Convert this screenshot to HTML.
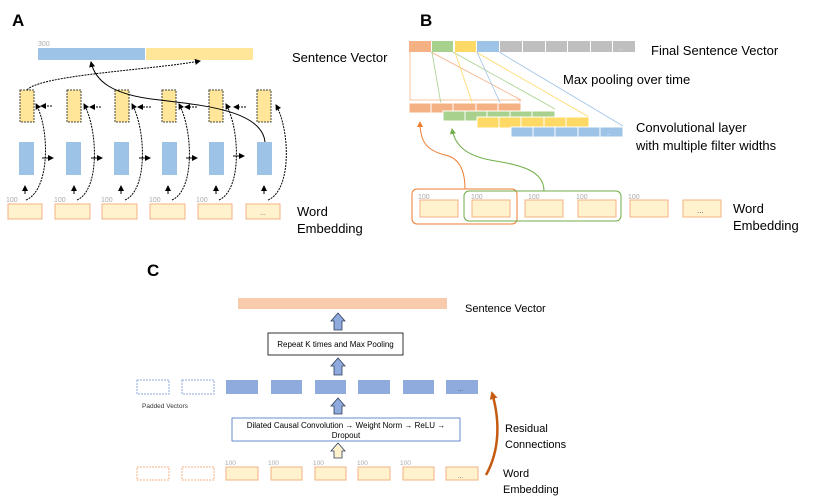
<!DOCTYPE html>
<html><head><meta charset="utf-8"><style>
html,body{margin:0;padding:0;background:#fff;}
svg{display:block;font-family:"Liberation Sans",sans-serif;}
</style></head><body>
<svg width="830" height="502" viewBox="0 0 830 502" xmlns="http://www.w3.org/2000/svg">
<defs>
<marker id="ak" markerWidth="6" markerHeight="6" refX="5" refY="3" orient="auto" markerUnits="userSpaceOnUse"><path d="M0,0 L6,3 L0,6 z" fill="#000"/></marker>
<marker id="ao" markerWidth="6" markerHeight="6" refX="5" refY="3" orient="auto" markerUnits="userSpaceOnUse"><path d="M0,0 L6,3 L0,6 z" fill="#ed7d31"/></marker>
<marker id="ag" markerWidth="6" markerHeight="6" refX="5" refY="3" orient="auto" markerUnits="userSpaceOnUse"><path d="M0,0 L6,3 L0,6 z" fill="#70ad47"/></marker>
<marker id="ar" markerWidth="8" markerHeight="8" refX="6" refY="4" orient="auto" markerUnits="userSpaceOnUse"><path d="M0,0 L8,4 L0,8 z" fill="#c55a11"/></marker>
</defs>

<!-- Panel A -->
<text x="12" y="26" font-size="17" font-weight="bold">A</text>
<text x="38" y="46" font-size="7" fill="#aaa">300</text>
<rect x="38" y="48" width="107" height="12" fill="#9dc3e6"/>
<rect x="146" y="48" width="107" height="12" fill="#ffe699"/>
<text x="292" y="62" font-size="13">Sentence Vector</text>
<g id="colA">
</g>
<g stroke="#000" stroke-width="1">
<!-- yellow boxes -->
<g fill="#ffe699" stroke="#444" stroke-dasharray="2,1">
<rect x="20" y="90" width="14" height="32"/><rect x="67" y="90" width="14" height="32"/><rect x="115" y="90" width="14" height="32"/><rect x="162" y="90" width="14" height="32"/><rect x="209" y="90" width="14" height="32"/><rect x="257" y="90" width="14" height="32"/>
</g>
<g fill="#9dc3e6" stroke="none">
<rect x="19" y="142" width="15" height="33"/><rect x="66" y="142" width="15" height="33"/><rect x="114" y="142" width="15" height="33"/><rect x="162" y="142" width="15" height="33"/><rect x="209" y="142" width="15" height="33"/><rect x="257" y="142" width="15" height="33"/>
</g>
<g fill="#fff2cc" stroke="#f4b183">
<rect x="8" y="204" width="34" height="15"/><rect x="55" y="204" width="35" height="15"/><rect x="102" y="204" width="35" height="15"/><rect x="150" y="204" width="35" height="15"/><rect x="198" y="204" width="34" height="15"/><rect x="246" y="204" width="34" height="15"/>
</g>
<!-- small up arrows -->
<g marker-end="url(#ak)">
<line x1="25" y1="194" x2="25" y2="186"/><line x1="74" y1="194" x2="74" y2="186"/><line x1="121" y1="194" x2="121" y2="186"/><line x1="168" y1="194" x2="168" y2="186"/><line x1="216" y1="194" x2="216" y2="186"/><line x1="264" y1="194" x2="264" y2="186"/>
<line x1="42" y1="158" x2="53" y2="158"/><line x1="91" y1="158" x2="102" y2="158"/><line x1="139" y1="158" x2="150" y2="158"/><line x1="186" y1="158" x2="197" y2="158"/><line x1="233" y1="156" x2="244" y2="156"/>
</g>
<g marker-end="url(#ak)" stroke-dasharray="2,1">
<line x1="52" y1="106" x2="41" y2="106"/><line x1="101" y1="107" x2="90" y2="107"/><line x1="151" y1="107" x2="138" y2="107"/><line x1="197" y1="107" x2="185" y2="107"/><line x1="246" y1="107" x2="234" y2="107"/>
</g>
<g fill="none" stroke-dasharray="2,1" marker-end="url(#ak)">
<path d="M26,200 C50,190 50,130 36,104"/>
<path d="M77,200 C100,190 98,130 84,104"/>
<path d="M125,200 C148,190 146,130 132,104"/>
<path d="M172,200 C195,190 193,130 179,104"/>
<path d="M219,200 C242,190 240,130 226,104"/>
<path d="M268,200 C292,190 290,130 276,105"/>
<path d="M27,90 C40,75 150,70 200,61"/>
</g>
<path d="M265,142 C262,110 200,105 160,100 C110,95 95,80 91,62" fill="none" marker-end="url(#ak)"/>
</g>
<g font-size="7" fill="#aaa"><text x="6" y="202">100</text><text x="54" y="202">100</text><text x="101" y="202">100</text><text x="149" y="202">100</text><text x="196" y="202">100</text></g>
<text x="260" y="215" font-size="7" fill="#666">...</text>
<text x="297" y="216" font-size="13">Word</text>
<text x="297" y="233" font-size="13">Embedding</text>

<!-- Panel B -->
<text x="420" y="26" font-size="17" font-weight="bold">B</text>
<rect x="409" y="41" width="22" height="11" fill="#f4b183"/>
<rect x="432" y="41" width="21" height="11" fill="#a9d18e"/>
<rect x="455" y="41" width="21" height="11" fill="#ffd966"/>
<rect x="477" y="41" width="22" height="11" fill="#9dc3e6"/>
<g fill="#bfbfbf"><rect x="500" y="41" width="22" height="11"/><rect x="523" y="41" width="22" height="11"/><rect x="546" y="41" width="21" height="11"/><rect x="568" y="41" width="22" height="11"/><rect x="591" y="41" width="21" height="11"/><rect x="613" y="41" width="22" height="11"/></g>
<text x="619" y="50" font-size="6" fill="#fff">..</text>
<text x="651" y="55" font-size="13">Final Sentence Vector</text>
<text x="563" y="84" font-size="13">Max pooling over time</text>
<g stroke-width="0.8" fill="none">
<path d="M410,52 L410,100 L520,100 L520,103" stroke="#f4b183"/>
<line x1="431" y1="52" x2="521" y2="100" stroke="#f4b183"/>
<line x1="432" y1="52" x2="442" y2="110" stroke="#a9d18e"/>
<line x1="453" y1="52" x2="555" y2="109" stroke="#a9d18e"/>
<line x1="455" y1="52" x2="477" y2="117" stroke="#ffd966"/>
<line x1="476" y1="52" x2="589" y2="117" stroke="#ffd966"/>
<line x1="477" y1="52" x2="511" y2="127" stroke="#9dc3e6"/>
<line x1="499" y1="52" x2="623" y2="126" stroke="#9dc3e6"/>
</g>
<g stroke="#fff" stroke-width="1">
<g fill="#f4b183"><rect x="409" y="103" width="22" height="10"/><rect x="431" y="103" width="22" height="10"/><rect x="453" y="103" width="23" height="10"/><rect x="476" y="103" width="22" height="10"/><rect x="498" y="103" width="23" height="10"/></g>
<g fill="#a9d18e"><rect x="443" y="111" width="22" height="10"/><rect x="465" y="111" width="22" height="10"/><rect x="487" y="111" width="23" height="10"/><rect x="510" y="111" width="22" height="10"/><rect x="532" y="111" width="23" height="10"/></g>
<g fill="#ffd966"><rect x="477" y="117" width="22" height="11"/><rect x="499" y="117" width="22" height="11"/><rect x="521" y="117" width="23" height="11"/><rect x="544" y="117" width="22" height="11"/><rect x="566" y="117" width="23" height="11"/></g>
<g fill="#9dc3e6"><rect x="511" y="127" width="22" height="10"/><rect x="533" y="127" width="22" height="10"/><rect x="555" y="127" width="23" height="10"/><rect x="578" y="127" width="22" height="10"/><rect x="600" y="127" width="23" height="10"/></g>
</g>
<text x="607" y="135" font-size="6" fill="#fff">..</text>
<text x="636" y="132" font-size="13">Convolutional layer</text>
<text x="636" y="150" font-size="13">with multiple filter widths</text>
<g fill="#fff2cc" stroke="#f4b183">
<rect x="420" y="200" width="38" height="17"/><rect x="472" y="200" width="38" height="17"/><rect x="525" y="200" width="38" height="17"/><rect x="578" y="200" width="38" height="17"/><rect x="630" y="200" width="38" height="17"/><rect x="683" y="200" width="38" height="17"/>
</g>
<text x="697" y="213" font-size="8" fill="#555">...</text>
<g font-size="7" fill="#aaa"><text x="418" y="199">100</text><text x="471" y="199">100</text><text x="528" y="199">100</text><text x="576" y="199">100</text><text x="628" y="199">100</text></g>
<rect x="412" y="189" width="105" height="35" rx="5" fill="none" stroke="#ed7d31"/>
<rect x="464" y="191" width="157" height="30" rx="5" fill="none" stroke="#70ad47"/>
<path d="M465,189 C465,165 455,157 445,155 C425,150 420,140 420,122" fill="none" stroke="#ed7d31" marker-end="url(#ao)"/>
<path d="M544,191 C544,170 520,165 490,160 C465,155 455,145 452,129" fill="none" stroke="#70ad47" marker-end="url(#ag)"/>
<text x="733" y="213" font-size="13">Word</text>
<text x="733" y="230" font-size="13">Embedding</text>

<!-- Panel C -->
<text x="147" y="276" font-size="17" font-weight="bold">C</text>
<rect x="238" y="298" width="209" height="11" fill="#f8cbad"/>
<text x="465" y="312" font-size="11">Sentence Vector</text>
<g fill="#8faadc" stroke="#2f3e5c" stroke-width="0.8">
<path d="M334,330 L334,321 L331,321 L338,313 L345,321 L342,321 L342,330 z"/>
<path d="M334,375 L334,366 L331,366 L338,358 L345,366 L342,366 L342,375 z"/>
<path d="M334,414 L334,406 L331,406 L338,398 L345,406 L342,406 L342,414 z"/>
<path d="M334,458 L334,451 L331,451 L338,443 L345,451 L342,451 L342,458 z" fill="#fff2cc"/>
</g>
<rect x="268" y="333" width="135" height="22" fill="#fff" stroke="#000" stroke-width="0.8"/>
<text x="335.5" y="347" font-size="8" text-anchor="middle">Repeat K times and Max Pooling</text>
<g fill="none" stroke="#8faadc" stroke-dasharray="2,1"><rect x="137" y="380" width="32" height="14"/><rect x="182" y="380" width="32" height="14"/></g>
<g fill="#8faadc"><rect x="226" y="380" width="32" height="14"/><rect x="271" y="380" width="31" height="14"/><rect x="315" y="380" width="31" height="14"/><rect x="358" y="380" width="32" height="14"/><rect x="403" y="380" width="31" height="14"/><rect x="446" y="380" width="32" height="14"/></g>
<text x="458" y="391" font-size="6" fill="#444">...</text>
<text x="142" y="408" font-size="6.5" fill="#333">Padded Vectors</text>
<rect x="232" y="418" width="228" height="23" fill="#fff" stroke="#4472c4" stroke-width="0.8"/>
<text x="346" y="428" font-size="8" text-anchor="middle">Dilated Causal Convolution → Weight Norm → ReLU →</text>
<text x="346" y="438" font-size="8" text-anchor="middle">Dropout</text>
<g fill="none" stroke="#f4b183" stroke-dasharray="2,1"><rect x="137" y="467" width="32" height="13"/><rect x="182" y="467" width="32" height="13"/></g>
<g fill="#fff2cc" stroke="#f4b183"><rect x="226" y="467" width="32" height="13"/><rect x="271" y="467" width="31" height="13"/><rect x="315" y="467" width="31" height="13"/><rect x="358" y="467" width="32" height="13"/><rect x="403" y="467" width="31" height="13"/><rect x="446" y="467" width="32" height="13"/></g>
<text x="458" y="478" font-size="6" fill="#555">...</text>
<g font-size="6.5" fill="#aaa"><text x="225" y="465">100</text><text x="268" y="465">100</text><text x="313" y="465">100</text><text x="357" y="465">100</text><text x="400" y="465">100</text></g>
<path d="M486,475 C500,450 500,420 492,393" fill="none" stroke="#c55a11" stroke-width="2.5" marker-end="url(#ar)"/>
<text x="505" y="432" font-size="11">Residual</text>
<text x="505" y="448" font-size="11">Connections</text>
<text x="503" y="477" font-size="11">Word</text>
<text x="503" y="493" font-size="11">Embedding</text>
</svg>
</body></html>
